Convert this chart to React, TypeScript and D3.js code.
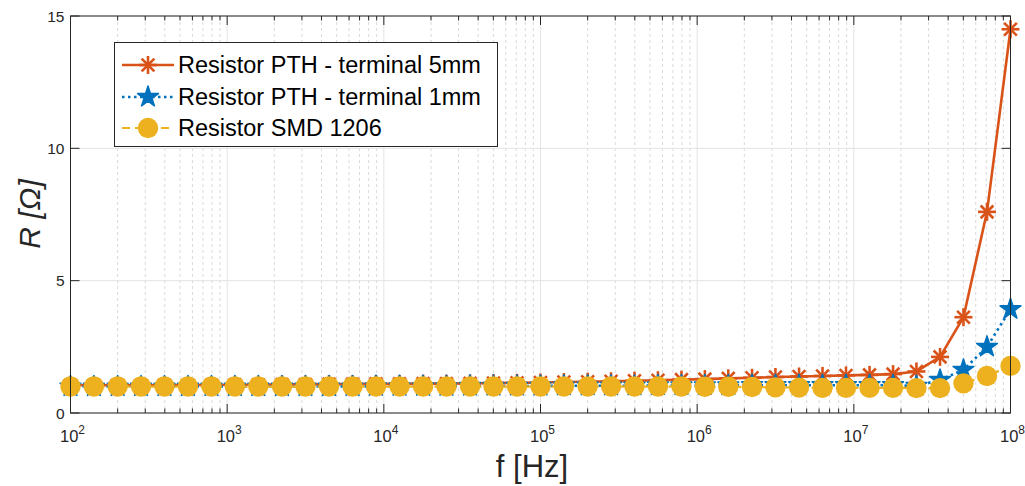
import React from "react";
import * as d3 from "d3";

const freqs = [
  1.0e2, 1.41e2, 2.0e2, 2.82e2, 3.98e2, 5.62e2, 7.94e2,
  1.12e3, 1.58e3, 2.24e3, 3.16e3, 4.47e3, 6.31e3, 8.91e3,
  1.26e4, 1.78e4, 2.51e4, 3.55e4, 5.01e4, 7.08e4,
  1.0e5, 1.41e5, 2.0e5, 2.82e5, 3.98e5, 5.62e5, 7.94e5,
  1.12e6, 1.58e6, 2.24e6, 3.16e6, 4.47e6, 6.31e6, 8.91e6,
  1.26e7, 1.78e7, 2.51e7, 3.55e7, 5.01e7, 7.08e7, 1.0e8,
];

const pth5mm = [
  1.05, 1.05, 1.05, 1.05, 1.06, 1.06, 1.06, 1.07, 1.07, 1.08, 1.08,
  1.09, 1.09, 1.1, 1.1, 1.11, 1.11, 1.12, 1.13, 1.14, 1.15,
  1.17, 1.18, 1.2, 1.22, 1.24, 1.26, 1.28, 1.31, 1.33, 1.36,
  1.38, 1.4, 1.42, 1.44, 1.47, 1.57, 2.12, 3.62, 7.6, 14.5,
];

const pth1mm = [
  1.0, 1.0, 1.0, 1.0, 1.0, 1.0, 1.0, 1.0, 1.0, 1.0, 1.0,
  1.0, 1.0, 1.01, 1.01, 1.01, 1.01, 1.02, 1.02, 1.02, 1.02,
  1.03, 1.03, 1.03, 1.03, 1.04, 1.04, 1.04, 1.04, 1.05, 1.05,
  1.05, 1.05, 1.05, 1.05, 1.05, 1.02, 1.25, 1.63, 2.5, 3.92,
];

const smd1206 = [
  1.0, 1.0, 1.0, 1.0, 1.0, 1.0, 1.0, 1.0, 1.0, 1.0, 1.0,
  1.0, 1.0, 1.0, 1.0, 1.0, 1.0, 1.0, 1.0, 1.0, 1.0,
  1.0, 1.0, 1.0, 1.0, 1.0, 1.0, 0.99, 0.99, 0.98, 0.97,
  0.96, 0.95, 0.95, 0.95, 0.95, 0.94, 0.94, 1.12, 1.4, 1.78,
];

const seriesNames = [
  "Resistor PTH - terminal 5mm",
  "Resistor PTH - terminal 1mm",
  "Resistor SMD 1206",
];
const xTickExps = [2, 3, 4, 5, 6, 7, 8];
const yTicks = [0, 5, 10, 15];

const W = 1025;
const H = 486;
const L = 70.5;
const R = 1010.5;
const T = 16;
const B = 413;

const ORANGE = "#D95319";
const BLUE = "#0072BD";
const YELLOW = "#EDB120";
const AX = "#262626";
const FONT = "'Liberation Sans', Arial, Helvetica, sans-serif";

function Asterisk({ x, y, r, color }: { x: number; y: number; r: number; color: string }) {
  const angles = [0, 45, 90, 135];
  return (
    <g>
      {angles.map((a) => {
        const rad = (a * Math.PI) / 180;
        const dx = Math.cos(rad) * r;
        const dy = Math.sin(rad) * r;
        return (
          <line key={a} x1={x - dx} y1={y - dy} x2={x + dx} y2={y + dy} stroke={color} strokeWidth={2.6} />
        );
      })}
    </g>
  );
}

export default function App() {
  const x = d3.scaleLog().domain([1e2, 1e8]).range([L, R]);
  const y = d3.scaleLinear().domain([0, 15]).range([B, T]);

  const minor: number[] = [];
  for (let e = 2; e < 8; e++) {
    for (let m = 2; m <= 9; m++) minor.push(m * Math.pow(10, e));
  }

  const line = d3
    .line<number>()
    .x((_, i) => x(freqs[i]))
    .y((d) => y(d));

  const star = d3.symbol().type(d3.symbolStar).size(135)();

  const lx1 = 122;
  const lx2 = 174;
  const lmid = (lx1 + lx2) / 2;
  const rows = [65, 97, 128];

  return (
    <svg width={W} height={H} style={{ position: "absolute", left: 0, top: 0, background: "#fff" }}>
      <rect x={0} y={0} width={W} height={H} fill="#fff" />
      {minor.map((f) => (
        <line key={"mg" + f} x1={x(f)} x2={x(f)} y1={T} y2={B} stroke="#d9d9d9" strokeWidth={1} strokeDasharray="3 3" />
      ))}
      {xTickExps.map((e) => (
        <line key={"gx" + e} x1={x(Math.pow(10, e))} x2={x(Math.pow(10, e))} y1={T} y2={B} stroke="#e3e3e3" strokeWidth={1} />
      ))}
      {yTicks.map((t) => (
        <line key={"gy" + t} x1={L} x2={R} y1={y(t)} y2={y(t)} stroke="#e3e3e3" strokeWidth={1} />
      ))}

      <path d={line(pth5mm) || ""} fill="none" stroke={ORANGE} strokeWidth={2.6} />
      {pth5mm.map((v, i) => (
        <Asterisk key={"o" + i} x={x(freqs[i])} y={y(v)} r={9} color={ORANGE} />
      ))}
      <path d={line(pth1mm) || ""} fill="none" stroke={BLUE} strokeWidth={2.6} strokeDasharray="2.5 3.5" />
      {pth1mm.map((v, i) => (
        <path key={"b" + i} d={star || ""} transform={`translate(${x(freqs[i])},${y(v)})`} fill={BLUE} stroke={BLUE} strokeWidth={1.5} strokeLinejoin="round" />
      ))}
      <path d={line(smd1206) || ""} fill="none" stroke={YELLOW} strokeWidth={2.2} strokeDasharray="8 5" />
      {smd1206.map((v, i) => (
        <circle key={"y" + i} cx={x(freqs[i])} cy={y(v)} r={10.2} fill={YELLOW} />
      ))}

      <rect x={L} y={T} width={R - L} height={B - T} fill="none" stroke={AX} strokeWidth={1} />
      {xTickExps.map((e) => {
        const px = x(Math.pow(10, e));
        return (
          <g key={"xt" + e}>
            <line x1={px} x2={px} y1={B} y2={B - 9} stroke={AX} />
            <line x1={px} x2={px} y1={T} y2={T + 9} stroke={AX} />
          </g>
        );
      })}
      {minor.map((f) => (
        <g key={"mt" + f}>
          <line x1={x(f)} x2={x(f)} y1={B} y2={B - 4.5} stroke={AX} />
          <line x1={x(f)} x2={x(f)} y1={T} y2={T + 4.5} stroke={AX} />
        </g>
      ))}
      {yTicks.map((t) => (
        <g key={"yt" + t}>
          <line x1={L} x2={L + 9} y1={y(t)} y2={y(t)} stroke={AX} />
          <line x1={R} x2={R - 9} y1={y(t)} y2={y(t)} stroke={AX} />
          <text x={L - 6} y={y(t) + 5.5} textAnchor="end" fontFamily={FONT} fontSize={15.5} fill={AX}>
            {t}
          </text>
        </g>
      ))}
      {xTickExps.map((e) => (
        <text key={"xl" + e} x={x(Math.pow(10, e)) + 2} y={442} textAnchor="middle" fontFamily={FONT} fontSize={16.5} fill={AX}>
          10
          <tspan dy={-8} fontSize={12}>
            {e}
          </tspan>
        </text>
      ))}

      <text x={532} y={477} textAnchor="middle" fontFamily={FONT} fontSize={31} fill={AX}>
        f [Hz]
      </text>
      <text
        transform={`translate(40,214) rotate(-90)`}
        textAnchor="middle"
        fontFamily={FONT}
        fontSize={30}
        fontStyle="italic"
        fill={AX}
      >
        R [Ω]
      </text>

      <rect x={114.5} y={42.5} width={383} height={104} fill="#fff" stroke={AX} strokeWidth={1} />
      <line x1={lx1} x2={lx2} y1={rows[0]} y2={rows[0]} stroke={ORANGE} strokeWidth={2.6} />
      <Asterisk x={lmid} y={rows[0]} r={9} color={ORANGE} />
      <line x1={lx1} x2={lx2} y1={rows[1]} y2={rows[1]} stroke={BLUE} strokeWidth={2.6} strokeDasharray="2.5 3.5" />
      <path d={star || ""} transform={`translate(${lmid},${rows[1]})`} fill={BLUE} stroke={BLUE} strokeWidth={1.5} strokeLinejoin="round" />
      <line x1={lx1} x2={lx2} y1={rows[2]} y2={rows[2]} stroke={YELLOW} strokeWidth={2.2} strokeDasharray="8 5" />
      <circle cx={lmid} cy={rows[2]} r={10.2} fill={YELLOW} />
      {seriesNames.map((n, i) => (
        <text key={n} x={178} y={rows[i] + 8} fontFamily={FONT} fontSize={23.5} fill="#000">
          {n}
        </text>
      ))}
    </svg>
  );
}
